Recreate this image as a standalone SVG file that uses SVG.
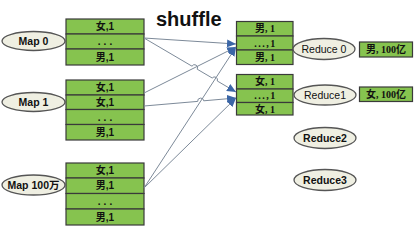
<svg xmlns="http://www.w3.org/2000/svg" width="416" height="226" viewBox="0 0 416 226">
<style>
.cell{fill:#86c34f;stroke:#3a3a3a;stroke-width:1.2}
.ell{fill:#efefe2;stroke:#555;stroke-width:1.3}
.lt{font-family:"Liberation Sans","Noto Sans CJK SC",sans-serif;font-weight:bold;font-size:10px;fill:#111;text-anchor:middle}
.rt{font-family:"Liberation Serif","Noto Sans CJK SC",serif;font-weight:bold;font-size:10px;fill:#111;text-anchor:middle}
.et{font-family:"Liberation Sans","Noto Sans CJK SC",sans-serif;font-size:10.5px;fill:#111;text-anchor:middle}
.b{font-weight:bold}
.con{fill:none;stroke:#7d8a99;stroke-width:1}
</style>
<defs>
<marker id="ah" markerUnits="userSpaceOnUse" markerWidth="10" markerHeight="8" refX="9" refY="4" orient="auto">
<path d="M0 0 L9 4 L0 8 Z" fill="#3b66a6"/>
</marker>
</defs>
<rect width="416" height="226" fill="#fff"/>
<text x="156" y="26" font-family="Liberation Sans, sans-serif" font-weight="bold" font-size="20" fill="#111">shuffle</text>

<g id="map0">
<ellipse class="ell" cx="33.5" cy="41" rx="31.5" ry="9.5"/>
<text class="et b" x="33.5" y="45">Map 0</text>
<rect class="cell" x="66" y="19" width="78" height="15"/>
<rect class="cell" x="66" y="34" width="78" height="15"/>
<rect class="cell" x="66" y="49" width="78" height="16"/>
<text class="lt" x="105" y="30">女,1</text>
<text class="lt" x="106.5" y="45" letter-spacing="3">...</text>
<text class="lt" x="105" y="61">男,1</text>
</g>

<g id="map1">
<ellipse class="ell" cx="33.5" cy="102" rx="31.5" ry="9.5"/>
<text class="et b" x="33.5" y="106">Map 1</text>
<rect class="cell" x="66" y="80" width="78" height="15"/>
<rect class="cell" x="66" y="95" width="78" height="14.5"/>
<rect class="cell" x="66" y="109.5" width="78" height="15"/>
<rect class="cell" x="66" y="124.5" width="78" height="15.5"/>
<text class="lt" x="105" y="91">女,1</text>
<text class="lt" x="105" y="106">女,1</text>
<text class="lt" x="106.5" y="121" letter-spacing="3">...</text>
<text class="lt" x="105" y="136">男,1</text>
</g>

<g id="map100w">
<ellipse class="ell" cx="33.5" cy="185" rx="31.5" ry="10"/>
<text class="et b" x="33.5" y="189" font-size="10">Map 100万</text>
<rect class="cell" x="66" y="163" width="78" height="15"/>
<rect class="cell" x="66" y="178" width="78" height="15.5"/>
<rect class="cell" x="66" y="193.5" width="78" height="15.5"/>
<rect class="cell" x="66" y="209" width="78" height="16"/>
<text class="lt" x="105" y="174">女,1</text>
<text class="lt" x="105" y="189">男,1</text>
<text class="lt" x="106.5" y="205" letter-spacing="3">...</text>
<text class="lt" x="105" y="221">男,1</text>
</g>

<g id="part0">
<rect class="cell" x="236.5" y="21.5" width="56.5" height="14.5"/>
<rect class="cell" x="236.5" y="36" width="56.5" height="14"/>
<rect class="cell" x="236.5" y="50" width="56.5" height="14.5"/>
<text class="rt" x="265" y="32">男, 1</text>
<text class="rt" x="265.5" y="46.5" letter-spacing="1.5">...,1</text>
<text class="rt" x="265" y="61">男, 1</text>
</g>

<g id="part1">
<rect class="cell" x="236.5" y="74.5" width="56.5" height="14.5"/>
<rect class="cell" x="236.5" y="89" width="56.5" height="13.5"/>
<rect class="cell" x="236.5" y="102.5" width="56.5" height="12.5"/>
<text class="rt" x="265" y="85">女, 1</text>
<text class="rt" x="265.5" y="99" letter-spacing="1.5">...,1</text>
<text class="rt" x="265" y="112.5">女, 1</text>
</g>

<g id="reduce0">
<ellipse class="ell" cx="324" cy="49" rx="31" ry="10.5"/>
<text class="et" x="324" y="53">Reduce 0</text>
</g>
<g id="result0">
<rect class="cell" x="359.5" y="42" width="53" height="15"/>
<text class="rt" x="386" y="53">男, 100亿</text>
</g>
<g id="reduce1">
<ellipse class="ell" cx="325" cy="95" rx="31" ry="10"/>
<text class="et" x="325" y="99">Reduce1</text>
</g>
<g id="result1">
<rect class="cell" x="359.5" y="87" width="53" height="14.5"/>
<text class="rt" x="386" y="98">女, 100亿</text>
</g>
<g id="reduce2">
<ellipse class="ell" cx="325" cy="138" rx="31" ry="10.5"/>
<text class="et b" x="325" y="142">Reduce2</text>
</g>
<g id="reduce3">
<ellipse class="ell" cx="325" cy="180" rx="31" ry="10.5"/>
<text class="et b" x="325" y="184">Reduce3</text>
</g>

<g id="connectors">
<path class="con" marker-end="url(#ah)" d="M144 38 L236 44"/>
<path class="con" marker-end="url(#ah)" d="M144 38 L192 66.2 A3 3 0 0 1 197.2 69.2 L212.2 78 A3 3 0 0 1 217.3 81 L236 92"/>
<path class="con" marker-end="url(#ah)" d="M144 93 L236 47"/>
<path class="con" marker-end="url(#ah)" d="M144 106 L197.7 101.4 A3 3 0 0 1 203.7 100.8 L236 98"/>
<path class="con" marker-end="url(#ah)" d="M144 188 L236 47"/>
<path class="con" marker-end="url(#ah)" d="M144 188 L236 98"/>
</g>
</svg>
